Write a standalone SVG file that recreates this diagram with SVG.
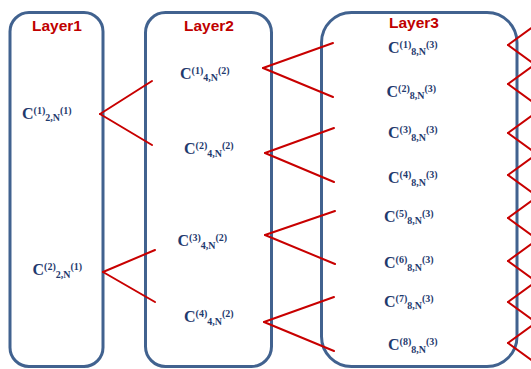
<svg xmlns="http://www.w3.org/2000/svg" width="531" height="369" viewBox="0 0 531 369">
<style>
.box{fill:#fff;stroke:#41628F;stroke-width:3}
.title{font-family:"Liberation Sans",Arial,sans-serif;font-weight:bold;font-size:15.5px;fill:#C00000;text-anchor:middle}
.lbl{font-family:"Liberation Serif","Times New Roman",serif;font-weight:bold;font-size:16px;fill:#1F3A6E}
.s{font-size:10px}
.con line{stroke:#C80000;stroke-width:2;stroke-linecap:round}
</style>
<rect width="531" height="369" fill="#fff"/>
<g id="layer1">
<rect class="box" x="10" y="12.5" width="93" height="354" rx="19"/>
<text class="title" x="57" y="31">Layer1</text>
</g>
<g id="layer2">
<rect class="box" x="145.5" y="12.5" width="126" height="354" rx="20"/>
<text class="title" x="209" y="31">Layer2</text>
</g>
<g id="layer3">
<rect class="box" x="321.5" y="12.5" width="195.5" height="354" rx="30"/>
<text class="title" x="414" y="28">Layer3</text>
</g>
<g class="con" id="connectors">
<line x1="100" y1="114" x2="152" y2="81"/><line x1="100" y1="114" x2="152" y2="145"/>
<line x1="103" y1="272" x2="155" y2="250"/><line x1="103" y1="272" x2="155" y2="302"/>
<line x1="263" y1="68" x2="333" y2="43"/><line x1="263" y1="68" x2="333" y2="97"/>
<line x1="265" y1="153" x2="334" y2="128"/><line x1="265" y1="153" x2="334" y2="182"/>
<line x1="265" y1="235" x2="335" y2="211"/><line x1="265" y1="235" x2="335" y2="264"/>
<line x1="264" y1="322" x2="334" y2="297"/><line x1="264" y1="322" x2="334" y2="351"/>
<line x1="508" y1="45" x2="534" y2="26"/><line x1="508" y1="45" x2="534" y2="64"/>
<line x1="508" y1="84" x2="534" y2="65"/><line x1="508" y1="84" x2="534" y2="103"/>
<line x1="508" y1="133" x2="534" y2="114"/><line x1="508" y1="133" x2="534" y2="152"/>
<line x1="508" y1="175" x2="534" y2="156"/><line x1="508" y1="175" x2="534" y2="194"/>
<line x1="508" y1="218" x2="534" y2="199"/><line x1="508" y1="218" x2="534" y2="237"/>
<line x1="508" y1="261" x2="534" y2="242"/><line x1="508" y1="261" x2="534" y2="280"/>
<line x1="508" y1="302" x2="534" y2="283"/><line x1="508" y1="302" x2="534" y2="321"/>
<line x1="508" y1="343" x2="534" y2="324"/><line x1="508" y1="343" x2="534" y2="362"/>
</g>
<g id="n1_1"><text class="lbl" x="22" y="118.5">C<tspan class="s" dy="-5">(1)</tspan><tspan class="s" dy="7.5">2,N</tspan><tspan class="s" dy="-7.5">(1)</tspan></text></g>
<g id="n1_2"><text class="lbl" x="32.5" y="275">C<tspan class="s" dy="-5">(2)</tspan><tspan class="s" dy="7.5">2,N</tspan><tspan class="s" dy="-7.5">(1)</tspan></text></g>
<g id="n2_1"><text class="lbl" x="180" y="78.5">C<tspan class="s" dy="-5">(1)</tspan><tspan class="s" dy="7.5">4,N</tspan><tspan class="s" dy="-7.5">(2)</tspan></text></g>
<g id="n2_2"><text class="lbl" x="184" y="154">C<tspan class="s" dy="-5">(2)</tspan><tspan class="s" dy="7.5">4,N</tspan><tspan class="s" dy="-7.5">(2)</tspan></text></g>
<g id="n2_3"><text class="lbl" x="177.5" y="246">C<tspan class="s" dy="-5">(3)</tspan><tspan class="s" dy="7.5">4,N</tspan><tspan class="s" dy="-7.5">(2)</tspan></text></g>
<g id="n2_4"><text class="lbl" x="184" y="322">C<tspan class="s" dy="-5">(4)</tspan><tspan class="s" dy="7.5">4,N</tspan><tspan class="s" dy="-7.5">(2)</tspan></text></g>
<g id="n3_1"><text class="lbl" x="388" y="52.5">C<tspan class="s" dy="-5">(1)</tspan><tspan class="s" dy="7.5">8,N</tspan><tspan class="s" dy="-7.5">(3)</tspan></text></g>
<g id="n3_2"><text class="lbl" x="386.5" y="96.5">C<tspan class="s" dy="-5">(2)</tspan><tspan class="s" dy="7.5">8,N</tspan><tspan class="s" dy="-7.5">(3)</tspan></text></g>
<g id="n3_3"><text class="lbl" x="388" y="138">C<tspan class="s" dy="-5">(3)</tspan><tspan class="s" dy="7.5">8,N</tspan><tspan class="s" dy="-7.5">(3)</tspan></text></g>
<g id="n3_4"><text class="lbl" x="388" y="183">C<tspan class="s" dy="-5">(4)</tspan><tspan class="s" dy="7.5">8,N</tspan><tspan class="s" dy="-7.5">(3)</tspan></text></g>
<g id="n3_5"><text class="lbl" x="384" y="221.5">C<tspan class="s" dy="-5">(5)</tspan><tspan class="s" dy="7.5">8,N</tspan><tspan class="s" dy="-7.5">(3)</tspan></text></g>
<g id="n3_6"><text class="lbl" x="384" y="268">C<tspan class="s" dy="-5">(6)</tspan><tspan class="s" dy="7.5">8,N</tspan><tspan class="s" dy="-7.5">(3)</tspan></text></g>
<g id="n3_7"><text class="lbl" x="384" y="306.5">C<tspan class="s" dy="-5">(7)</tspan><tspan class="s" dy="7.5">8,N</tspan><tspan class="s" dy="-7.5">(3)</tspan></text></g>
<g id="n3_8"><text class="lbl" x="388" y="350">C<tspan class="s" dy="-5">(8)</tspan><tspan class="s" dy="7.5">8,N</tspan><tspan class="s" dy="-7.5">(3)</tspan></text></g>
</svg>
